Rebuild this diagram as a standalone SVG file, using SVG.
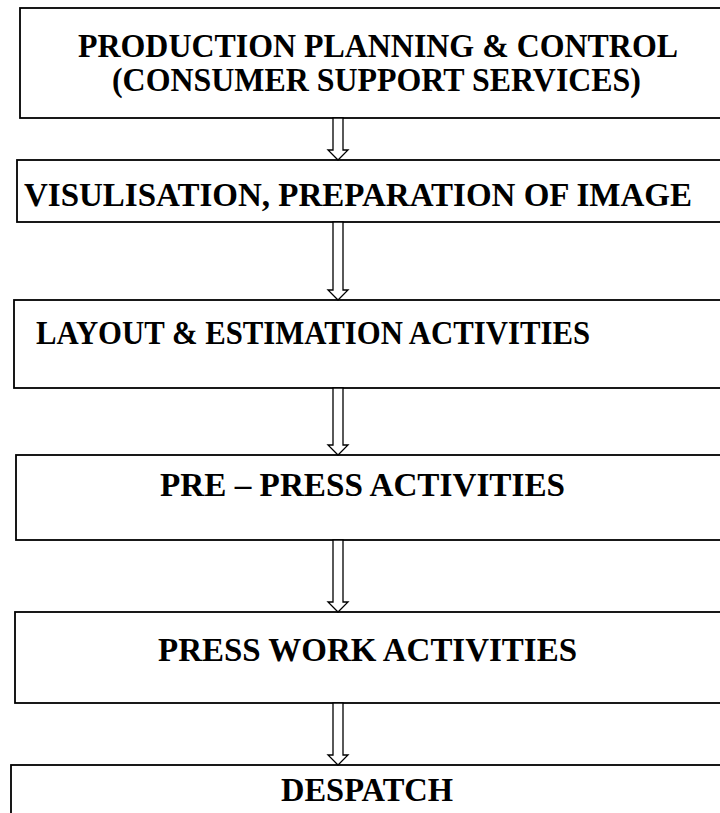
<svg xmlns="http://www.w3.org/2000/svg" width="720" height="813" viewBox="0 0 720 813">
<style>
.box{fill:#fff;stroke:#000;stroke-width:1.8}
.t{font-family:"Liberation Serif","Times New Roman",serif;font-weight:bold;font-size:33px;fill:#000}
.arr{fill:#fff;stroke:#000;stroke-width:1.3}
</style>
<rect width="720" height="813" fill="#fff"/>
<g id="n1"><rect class="box" x="20" y="8" width="710" height="110"/>
<text class="t" x="78" y="57" textLength="600" lengthAdjust="spacingAndGlyphs">PRODUCTION PLANNING &amp; CONTROL</text>
<text class="t" x="112" y="91" textLength="529" lengthAdjust="spacingAndGlyphs">(CONSUMER SUPPORT SERVICES)</text></g>
<g id="n2"><rect class="box" x="17" y="160" width="713" height="62"/>
<text class="t" x="24" y="206" textLength="668" lengthAdjust="spacingAndGlyphs">VISULISATION, PREPARATION OF IMAGE</text></g>
<g id="n3"><rect class="box" x="14" y="300" width="716" height="88"/>
<text class="t" x="36" y="344" textLength="554" lengthAdjust="spacingAndGlyphs">LAYOUT &amp; ESTIMATION ACTIVITIES</text></g>
<g id="n4"><rect class="box" x="16" y="455" width="714" height="85"/>
<text class="t" x="160" y="496" textLength="405" lengthAdjust="spacingAndGlyphs">PRE – PRESS ACTIVITIES</text></g>
<g id="n5"><rect class="box" x="15" y="612" width="715" height="91"/>
<text class="t" x="158" y="661" textLength="419" lengthAdjust="spacingAndGlyphs">PRESS WORK ACTIVITIES</text></g>
<g id="n6"><rect class="box" x="11" y="765" width="719" height="60"/>
<text class="t" x="281" y="801" textLength="172" lengthAdjust="spacingAndGlyphs">DESPATCH</text></g>
<g id="connectors">
<path class="arr" d="M333,118 V150 H328 L338,160 L348,150 H343 V118 Z"/>
<path class="arr" d="M333,222 V290 H328 L338,300 L348,290 H343 V222 Z"/>
<path class="arr" d="M333,388 V445 H328 L338,455 L348,445 H343 V388 Z"/>
<path class="arr" d="M333,540 V602 H328 L338,612 L348,602 H343 V540 Z"/>
<path class="arr" d="M333,703 V755 H328 L338,765 L348,755 H343 V703 Z"/>
</g>
</svg>
